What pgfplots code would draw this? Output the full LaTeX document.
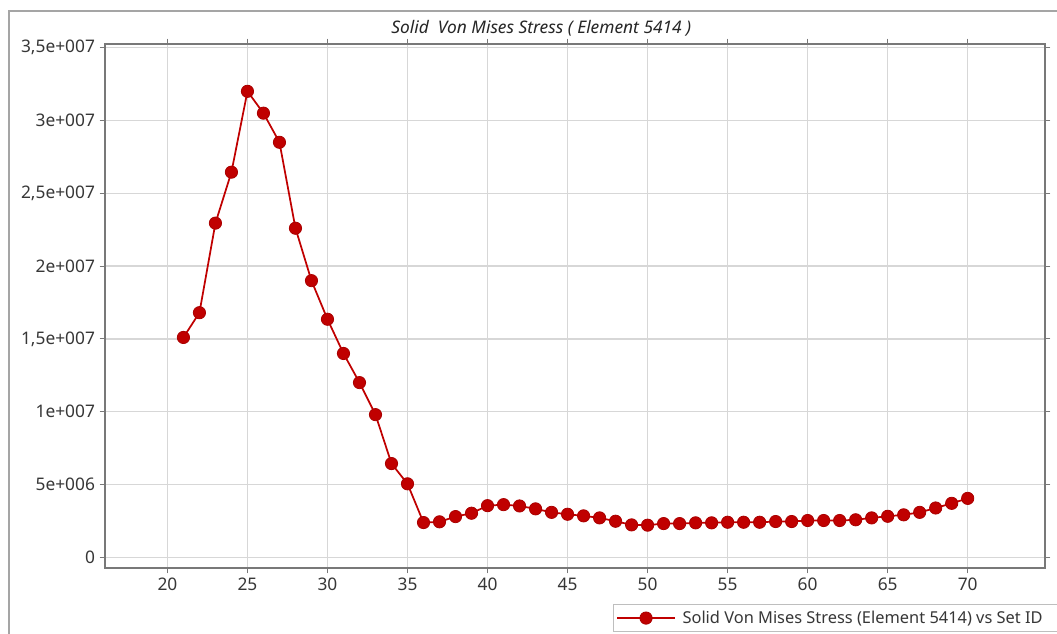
\documentclass[border=0pt]{standalone}
\usepackage{pgfplots}
\pgfplotsset{compat=1.18}
\usepackage{fontspec}
\setmainfont{Noto Sans}
\definecolor{ser}{RGB}{192,0,0}
\definecolor{serd}{RGB}{170,0,0}
\definecolor{tickc}{RGB}{55,55,55}
\definecolor{gridc}{RGB}{215,215,215}
\definecolor{axc}{RGB}{120,120,120}
\definecolor{framec}{RGB}{165,165,165}
\definecolor{legc}{RGB}{190,190,190}
\begin{document}
\begin{tikzpicture}
\useasboundingbox (0,0) rectangle (792.75pt,475.5pt);
\fill[white] (0,0) rectangle (792.75pt,475.5pt);
\draw[framec, line width=1pt] (6.75pt,-5pt) -- (6.75pt,467.25pt) -- (800pt,467.25pt);
\begin{axis}[
  at={(78.75pt,49.5pt)}, anchor=south west,
  scale only axis, width=705pt, height=393pt,
  xmin=16.1, xmax=74.83, ymin=-7.3e5, ymax=3.525e7,
  xtick={20,25,...,70},
  ytick={0,5e6,1e7,1.5e7,2e7,2.5e7,3e7,3.5e7},
  yticklabels={0,5e+006,1e+007,{1,5e+007},2e+007,{2,5e+007},3e+007,{3,5e+007}},
  scaled y ticks=false,
  grid=major,
  grid style={color=gridc, line width=1pt},
  axis line style={color=axc, line width=1pt},
  tick align=outside,
  major tick length=4pt,
  tick style={color=axc, line width=0.8pt},
  tick label style={font=\fontsize{13}{15}\selectfont, text=tickc},
  /pgf/number format/assume math mode=true,
  legend style={at={(0.5404,-0.0693)}, anchor=north west, draw=legc, line width=0.8pt,
    font=\fontsize{12.3}{14}\selectfont, text=tickc, inner xsep=2pt, inner ysep=2.5pt},
  legend cell align=left,
  legend image code/.code={\draw[#1, mark repeat=2, mark phase=2] plot coordinates {(0pt,0pt) (21.75pt,0pt) (43.5pt,0pt)};},
]
\addplot[color=ser, line width=1.3pt, mark=*, mark size=4.6pt, mark options={fill=ser, draw=serd, line width=0.6pt}]
coordinates {
(21,1.51e7) (22,1.68e7) (23,2.295e7) (24,2.645e7) (25,3.20e7) (26,3.05e7) (27,2.85e7)
(28,2.26e7) (29,1.90e7) (30,1.635e7) (31,1.40e7) (32,1.20e7) (33,9.8e6) (34,6.44e6)
(35,5.05e6) (36,2.39e6) (37,2.44e6) (38,2.80e6) (39,3.03e6) (40,3.55e6) (41,3.62e6)
(42,3.53e6) (43,3.33e6) (44,3.09e6) (45,2.96e6) (46,2.85e6) (47,2.71e6) (48,2.48e6)
(49,2.23e6) (50,2.21e6) (51,2.32e6) (52,2.32e6) (53,2.37e6) (54,2.37e6) (55,2.41e6)
(56,2.41e6) (57,2.41e6) (58,2.46e6) (59,2.46e6) (60,2.53e6) (61,2.53e6) (62,2.53e6)
(63,2.58e6) (64,2.71e6) (65,2.82e6) (66,2.92e6) (67,3.09e6) (68,3.39e6) (69,3.71e6)
(70,4.05e6)
};
\addlegendentry{\hspace{3pt}Solid Von Mises Stress (Element 5414) vs Set ID\makebox[20pt]{}}
\end{axis}
\node[font=\itshape\fontsize{13}{15}\selectfont, text=black!85] at (406pt,454.5pt) {Solid\ \ Von Mises Stress ( Element 5414 )};
\end{tikzpicture}
\end{document}
